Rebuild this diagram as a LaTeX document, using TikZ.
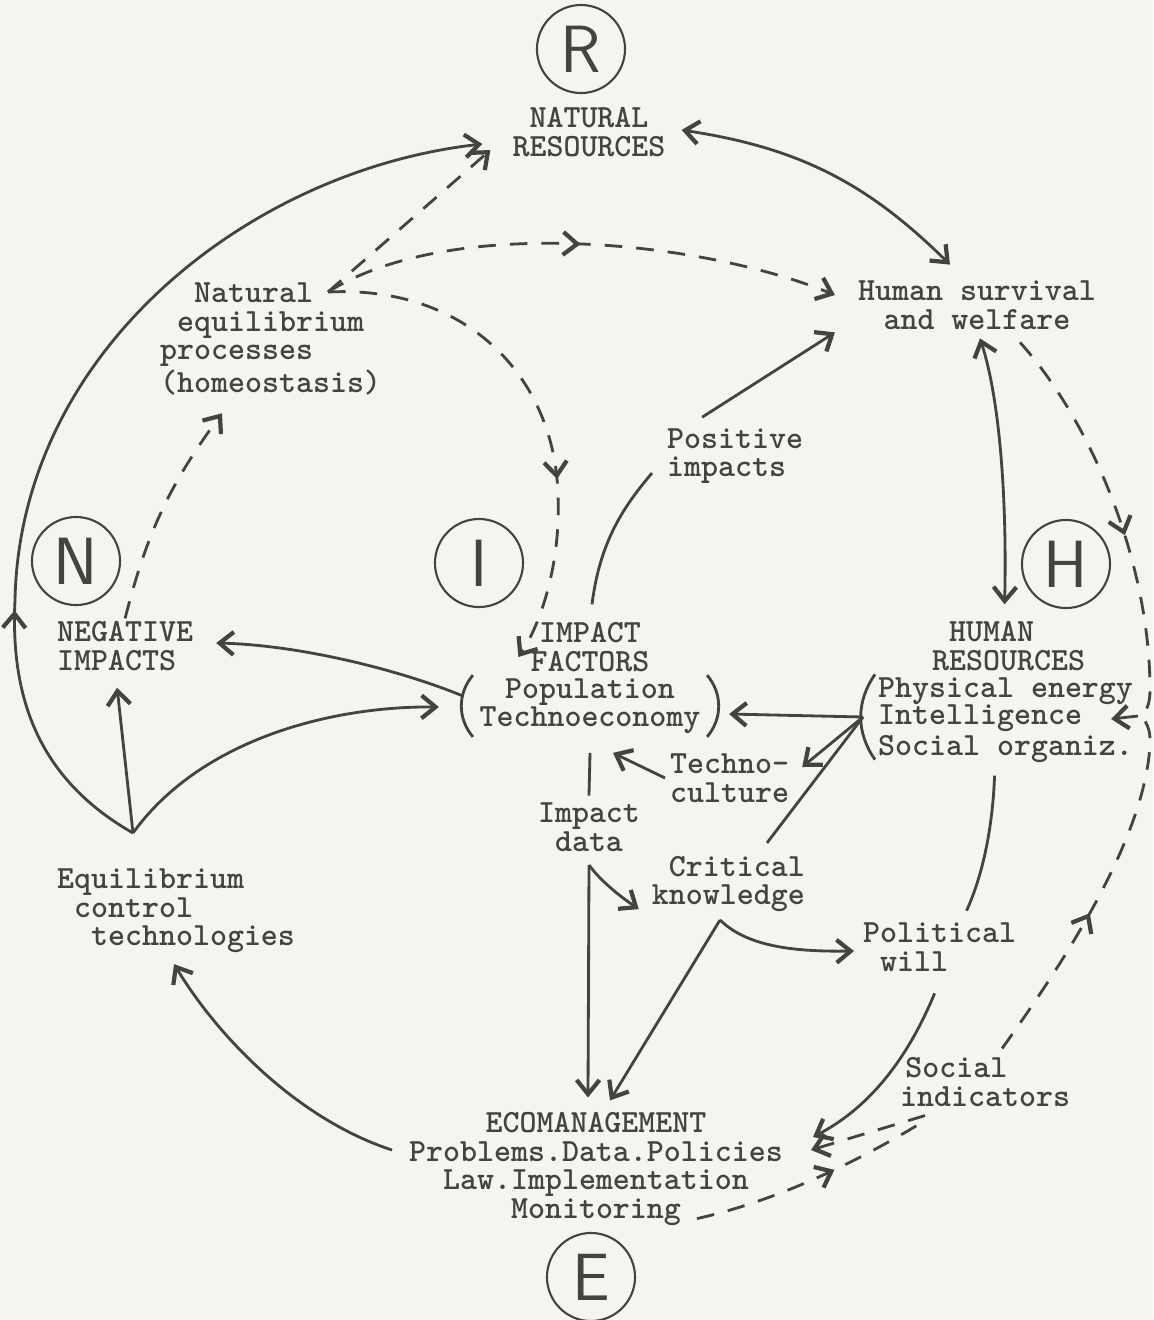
\documentclass[tikz,border=0pt]{standalone}
\usepackage{tikz}
\usetikzlibrary{arrows.meta,calc,decorations.markings}

\definecolor{ink}{RGB}{66,68,62}
\definecolor{paper}{RGB}{243,245,238}

\begin{document}
\begin{tikzpicture}[x=0.01cm, y=-0.01cm, line width=0.8pt, color=ink,
    >={Straight Barb[length=4pt,width=6.5pt,line width=1.2pt]},
    txt/.style={font=\fontsize{9.2}{8.1}\selectfont\ttfamily\bfseries, inner sep=0.5pt},
    letter/.style={circle, draw, line width=0.6pt, minimum size=0.88cm, inner sep=0pt,
      font=\fontsize{19}{19}\selectfont\sffamily},
    dsh/.style={dash pattern=on 5pt off 4pt},
    midarrow/.style={postaction={decorate, decoration={markings,
      mark=at position #1 with {\arrow{>}}}}}]
  \useasboundingbox (0,0) rectangle (1153,1320);
  \fill[paper] (0,0) rectangle (1153,1320);

  % circled letters
  \foreach \l/\x/\y in {R/581/49, N/76/561, I/479/563, H/1066/564, E/591/1277}
    \node[letter] (c\l) at (\x,\y) {\l};

  % labels
  \node[txt, align=center] (res) at (589,132) {NATURAL\\RESOURCES};
  \node[txt, align=center] (surv) at (977,305) {Human survival\\and welfare};
  \node[txt, align=left, anchor=west] (homeo) at (157,339)
    {\hphantom{xx}Natural\\\hphantom{x}equilibrium\\processes\\(homeostasis)};
  \node[txt, align=left, anchor=west] (pos) at (664,456) {Positive\\impacts};
  \node[txt, align=left, anchor=west] (neg) at (54,646) {NEGATIVE\\IMPACTS};
  \node[txt, align=center] (fac) at (590,647) {IMPACT\\FACTORS};
  \node[txt, align=center, inner xsep=1.5pt] (pop) at (590,706) {Population\\Technoeconomy};
  \node[txt, align=left, anchor=west] (hum) at (929,646) {\hphantom{x}HUMAN\\RESOURCES};
  \node[txt, align=left, anchor=west, font=\fontsize{9.2}{7.7}\selectfont\ttfamily\bfseries]
    (hlist) at (875,720) {Physical energy\\Intelligence\\Social organiz.};
  \node[txt, align=left, anchor=west] (cult) at (667,778) {Techno-\\culture};
  \node[txt, align=center] (idata) at (589,827) {Impact\\data};
  \node[txt, align=right, anchor=east] (crit) at (808,884) {Critical\\knowledge};
  \node[txt, align=left, anchor=west] (pol) at (860,947) {Political\\\hphantom{x}will};
  \node[txt, align=left, anchor=west] (eqc) at (54,911)
    {Equilibrium\\\hphantom{x}control\\\hphantom{xx}technologies};
  \node[txt, align=left, anchor=west] (soc) at (897,1082) {\hspace{1.5pt}Social\\indicators};
  \node[txt, align=center] (eco) at (596,1169)
    {ECOMANAGEMENT\\Problems.Data.Policies\\Law.Implementation\\Monitoring};

  % brackets
  \draw (pop.north west) to[bend right=40] (pop.south west);
  \draw (pop.north east) to[bend left=40] (pop.south east);
  \draw (hlist.north west) to[bend right=35] ($(hlist.south west)+(0,-6)$);

  % junctions
  \coordinate (natp) at (328,292);
  \coordinate (eqj) at (133,833);
  \coordinate (hb) at (863,717);
  \coordinate (ij) at (589,865);
  \coordinate (cj) at (720,920);
  \coordinate (brc) at (1138,716);

  % outer loop
  \draw[<->] ($(res.east)+(13,-2)$) to[bend left=18] ($(surv.north)+(-27,-13)$);
  \draw[->, midarrow=0.27] (eqj) .. controls (40,780) and (10,700) .. (15,600)
    .. controls (20,350) and (250,170) .. ($(res.west)+(-27,12)$);
  \draw[<->] ($(surv.south)+(3,6)$) .. controls (1000,400) and (1007,500)
    .. ($(hum.north)+(-4,-14)$);

  % homeostasis
  \draw[dsh, ->] (natp) -- ($(res.west)+(-19,18)$);
  \draw[dsh, ->, midarrow=0.5] (natp) .. controls (450,215) and (700,240)
    .. ($(surv.west)+(-20,-10)$);
  \draw[dsh, ->, midarrow=0.64] (natp) .. controls (470,285) and (555,380) .. (558,495)
    .. controls (561,565) and (540,625) .. ($(fac.west)+(-9,10)$);
  \draw[dsh, ->] (neg.north) to[bend left=11] ($(homeo.south west)+(65,15)$);

  % impact factors
  \draw ($(fac.north)+(2,-15)$) .. controls (600,540) and (625,505) .. ($(pos.west)+(-12,17)$);
  \draw[->] ($(pos.north)+(-33,-8)$) -- ($(surv.south west)+(-20,0)$);
  \draw[->] ($(pop.west)+(-10,-10)$) .. controls (400,670) and (300,645) .. ($(neg.east)+(20,-3)$);
  \draw[->] (eqj) -- ($(neg.south)+(-8,14)$);
  \draw[->] (eqj) .. controls (200,740) and (330,706) .. ($(pop.west)+(-34,1)$);
  \draw ($(pop.south)+(0,16)$) -- ($(idata.north)+(0,-4)$);

  % human resources
  \draw[->] (hb) -- ($(pop.east)+(22,8)$);
  \draw[->] (hb) -- ($(cult.east)+(10,-11)$);
  \draw (hb) -- ($(crit.north east)+(-41,-10)$);
  \draw[->] ($(cult.west)+(-2,0)$) -- ($(pop.south)+(23,16)$);
  \draw ($(hlist.south)+(-11,10)$) .. controls (993,820) and (985,870) .. ($(pol.north)+(27,-9)$);

  % data and knowledge
  \draw[->] (ij) -- ($(eco.north)+(-8,-12)$);
  \draw[->] (ij) .. controls (600,880) and (618,895) .. ($(crit.south west)+(-10,-6)$);
  \draw[->] (cj) -- ($(eco.north)+(14,-9)$);
  \draw[->] (cj) .. controls (745,944) and (785,952) .. ($(pol.west)+(-6,4)$);
  \draw[->] ($(pol.south)+(-5,19)$) .. controls (905,1065) and (865,1110) .. ($(eco.east)+(27,-32)$);

  % ecomanagement
  \draw[->] ($(eco.west)+(-14,-19)$) .. controls (300,1120) and (220,1040) .. ($(eqc.south)+(-2,8)$);

  % feedback
  \draw[dsh, midarrow=0.6] ($(eco.south)+(101,-10)$) .. controls (780,1200) and (860,1160)
    .. ($(soc.south west)+(23,14)$);
  \draw[dsh, ->] ($(soc.south west)+(28,6)$) -- ($(eco.east)+(25,-19)$);
  \draw[dsh, midarrow=0.43] ($(soc.north)+(17,-6)$) .. controls (1080,940) and (1145,830) .. (1150,745)
    .. controls (1151,730) and (1146,718) .. (brc);
  \draw[dsh, midarrow=0.54] ($(surv.south)+(43,10)$) .. controls (1090,420) and (1150,560) .. (1150,690)
    .. controls (1150,705) and (1146,714) .. (brc);
  \draw[->] (brc) -- ($(hlist.east)+(-25,-1)$);
\end{tikzpicture}
\end{document}
